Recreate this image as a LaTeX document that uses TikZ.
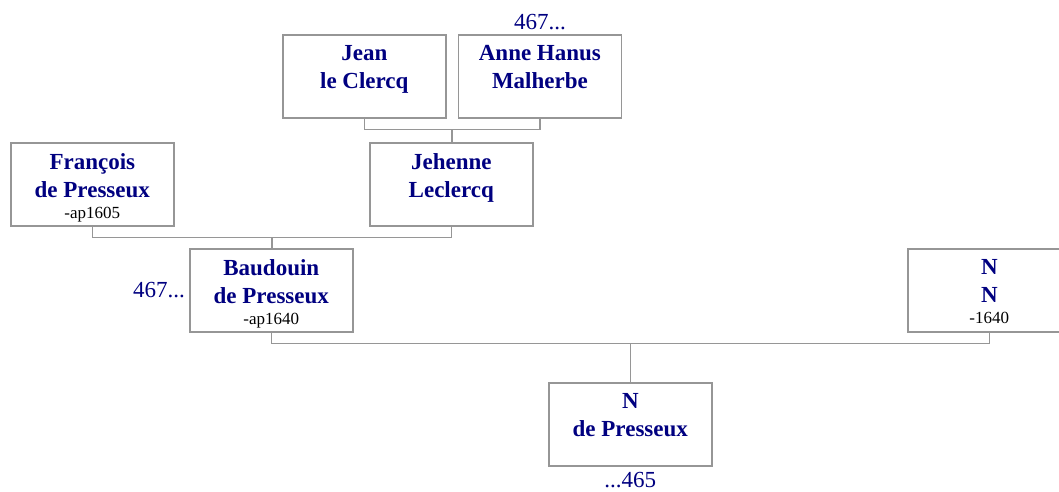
\documentclass[tikz,border=0pt]{standalone}
\usepackage{fontspec}
\setmainfont{Liberation Serif}
\usetikzlibrary{positioning,calc}
\definecolor{navy}{RGB}{0,0,128}
\definecolor{linegray}{RGB}{150,150,150}
\newcommand{\who}[2]{\parbox[c][83pt][t]{163pt}{\centering\vspace*{11pt}%
  {\leavevmode\fontsize{23}{28}\selectfont\bfseries\color{navy}#1\par}%
  {\leavevmode\fontsize{17}{21}\selectfont #2\par}}}

\begin{document}
\begin{tikzpicture}[
  x=1pt,y=-1pt,
  person/.style={draw=linegray, line width=1.6pt, inner sep=0pt, anchor=north west},
  ref/.style={text=navy, font=\fontsize{23}{28}\selectfont, inner sep=0pt},
  gen/.style={draw=linegray, line width=1.6pt},
]
\useasboundingbox (0,0) rectangle (1059,491);

% grandparents
\node[person] (jean) at (282,34) {\who{Jean\\le Clercq}{}};
\node[person, right=11pt of jean] (anne) {\who{Anne Hanus\\Malherbe}{}};
\node[ref, above=4pt of anne] (annetag) {467...};

% parents
\node[person] (francois) at (10,142) {\who{François\\de Presseux}{-ap1605}};
\node[person] (jehenne) at (369,142) {\who{Jehenne\\Leclercq}{}};

\node[person] (baudouin) at (189,248) {\who{Baudouin\\de Presseux}{-ap1640}};
\node[ref, left=4pt of baudouin] (baudtag) {467...};
\node[person] (nn) at (907,248) {\who{N\\N}{-1640}};

% child
\node[person] (npres) at (548,382) {\who{N\\de Presseux}{}};
\node[ref, below=5pt of npres] (nprestag) {...465};

% couples
\coordinate (m1) at ($(jean.south)!0.5!(anne.south)+(0,11)$);
\coordinate (m2) at ($(francois.south)!0.5!(jehenne.south)+(0,11)$);
\coordinate (m3) at ($(baudouin.south)!0.5!(nn.south)+(0,11)$);

\draw[gen] (jean.south) |- (m1) -| (anne.south);
\draw[gen] (m1) -- (m1 |- jehenne.north);
\draw[gen] (francois.south) |- (m2) -| (jehenne.south);
\draw[gen] (m2) -- (m2 |- baudouin.north);
\draw[gen] (baudouin.south) |- (m3) -| (nn.south);
\draw[gen] (m3) -- (m3 |- npres.north);
\end{tikzpicture}
\end{document}
